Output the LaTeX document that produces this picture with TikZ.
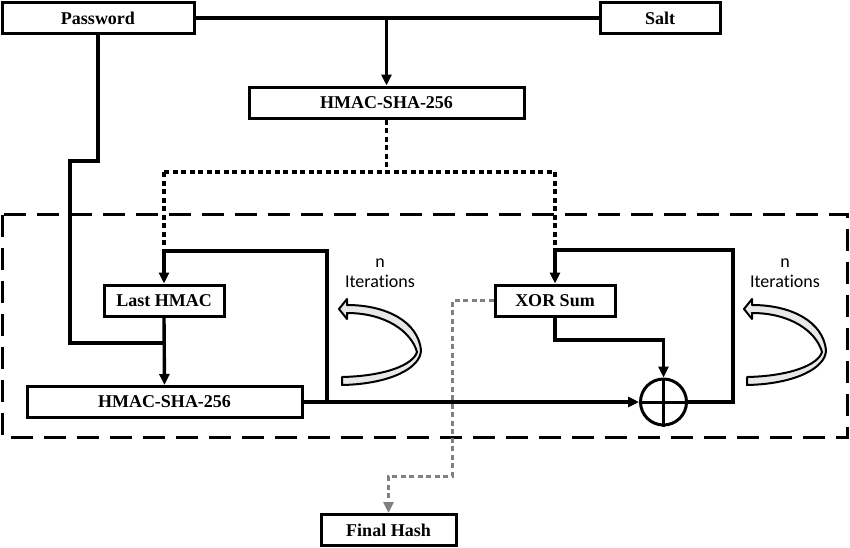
\documentclass[tikz,border=0pt]{standalone}
\usepackage{fontspec}
\setmainfont{Liberation Serif}
\newfontfamily\itfont[Ligatures=NoCommon]{Carlito}
\usetikzlibrary{arrows.meta}
\tikzset{
  box/.style={draw, line width=3pt, fill=white, inner sep=0pt, minimum height=31pt,
    font=\fontsize{18}{20}\selectfont\bfseries},
  conn/.style={line width=3.4pt},
  arr/.style={conn, -{Triangle[length=11pt,width=10pt]}},
  dots/.style={line width=3.4pt, dash pattern=on 5pt off 3.5pt},
  gdots/.style={line width=3pt, gray, dash pattern=on 5pt off 3.5pt},
  garr/.style={gdots, -{Triangle[length=11pt,width=10pt]}},
  iterlbl/.style={align=center, font=\fontsize{18}{20}\selectfont\itfont},
  curl/.style={draw, line width=2pt, fill=gray!18, line join=round}
}
\begin{document}
\begin{tikzpicture}[x=1pt,y=-1pt]
\useasboundingbox (0,0) rectangle (850,547);
% dashed frame
\draw[line width=3pt, dash pattern=on 22pt off 11pt] (2,214.5) rectangle (847.5,437);
% boxes
\node[box, minimum width=192pt] (pw) at (98,18) {Password};
\node[box, minimum width=120pt] (salt) at (660,18) {Salt};
\node[box, minimum width=275pt] (h1) at (386.5,102.5) {HMAC-SHA-256};
\node[box, minimum width=120pt] (last) at (164,300.5) {Last HMAC};
\node[box, minimum width=275pt] (h2) at (164.5,402) {HMAC-SHA-256};
\node[box, minimum width=120pt] (xor) at (555,300.5) {XOR Sum};
\node[box, minimum width=135pt, minimum height=31pt] (fin) at (388.5,530) {Final Hash};
\node[draw, circle, line width=3pt, minimum size=46pt, inner sep=0pt] (ox) at (663.5,402) {};
\draw[line width=3pt] (ox.north) -- (ox.south) (ox.west) -- (ox.east);
% coordinates
\coordinate (j1) at (386.5,18);
\coordinate (p1) at (98,161);
\coordinate (p2) at (70,161);
\coordinate (p3) at (70,343);
\coordinate (p4) at (164,343);
\coordinate (d0) at (386.5,172);
\coordinate (dl) at (164,172);
\coordinate (dr) at (555,172);
\coordinate (ll) at (164,251);
\coordinate (lr) at (327,251);
\coordinate (lb) at (327,402);
\coordinate (x1) at (555,340);
\coordinate (x2) at (663.5,340);
\coordinate (rb) at (733,402);
\coordinate (rt) at (733,250);
\coordinate (rl) at (555,250);
\coordinate (g1) at (452,300.5);
\coordinate (g2) at (452,476);
\coordinate (g3) at (388.5,476);
% connectors
\draw[conn] (pw.east) -- (salt.west);
\draw[arr] (j1) -- (h1.north);
\draw[conn, line join=miter] (pw.south) -- (p1) -- (p2) -- (p3) -- (p4);
\draw[dots] (h1.south) -- (d0);
\draw[dots] (dl) -- (dr);
\draw[dots] (dl) -- (ll);
\draw[dots] (dr) -- (rl);
\draw[arr] (lb) -- (lr) -- (ll) -- (last.north);
\draw[arr] (last.south) -- (h2.north);
\draw[arr] (h2.east) -- (ox.west);
\draw[arr] (xor.south) -- (x1) -- (x2) -- (ox.north);
\draw[arr] (ox.east) -- (rb) -- (rt) -- (rl) -- (xor.north);
\draw[garr] (xor.west) -- (g1) -- (g2) -- (g3) -- (fin.north);
% iteration labels and curls
\node[iterlbl] (it1) at (380,273) {n\\Iterat\kern0pt ions};
\node[iterlbl] (it2) at (785,273) {n\\Iterat\kern0pt ions};
\foreach \dx in {0,405}{
  \begin{scope}[xshift=\dx]
  \path[curl] (347,305) .. controls (387,305) and (418,322) .. (421,350)
     .. controls (421,368) and (390,384) .. (342,385) -- (342,377)
     .. controls (385,376) and (413,365) .. (417,352)
     .. controls (411,331) and (385,313) .. (347,313)
     -- (347,319) -- (339,309) -- (347,299) -- cycle;
  \end{scope}
}
\end{tikzpicture}
\end{document}
